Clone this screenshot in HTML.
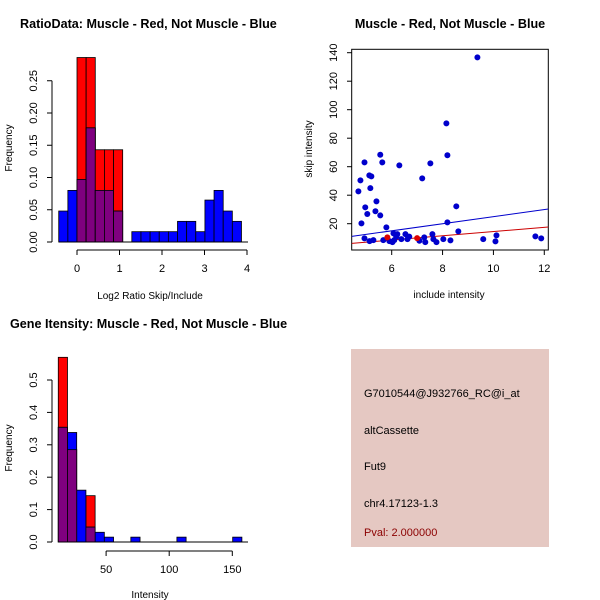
<!DOCTYPE html>
<html><head><meta charset="utf-8"><style>
body{margin:0;background:#fff}
svg{display:block;font-family:"Liberation Sans",sans-serif}
</style></head><body>
<svg id="s" width="600" height="600" viewBox="0 0 600 600">
<rect width="600" height="600" fill="#fff"/>
<g id="p1"></g>
<g id="p2"></g>
<g id="p3"></g>
<g>
<rect x="351" y="349" width="198" height="198" fill="#e5c8c2"/>
<text x="364" y="397" font-size="11">G7010544@J932766_RC@i_at</text>
<text x="364" y="434" font-size="11">altCassette</text>
<text x="364" y="470" font-size="11">Fut9</text>
<text x="364" y="507" font-size="11">chr4.17123-1.3</text>
<text x="364" y="536" font-size="11" fill="#8b0000">Pval: 2.000000</text>
</g>
</svg>
<script>
// ---- Plot 1 data ----
const ratioBinStart = -0.43;
const ratioBinWidth = 0.215;
const ratioBlue = [0.048,0.08,0.097,0.177,0.08,0.08,0.048,0,0.016,0.016,0.016,0.016,0.016,0.032,0.032,0.016,0.065,0.08,0.048,0.032];
const ratioRed = [0,0,0.286,0.286,0.143,0.143,0.143,0,0,0,0,0,0,0,0,0,0,0,0,0];
const ratioXTicks = [0,1,2,3,4];
const ratioYTicks = [0,0.05,0.10,0.15,0.20,0.25];
const ratioYLabels = ["0.00","0.05","0.10","0.15","0.20","0.25"];
// ---- Plot 2 data ----
const scatX = [4.69,4.77,4.81,4.93,4.93,4.96,5.04,5.12,5.16,5.2,5.13,5.28,5.36,5.4,5.55,5.55,5.63,5.67,5.79,5.91,6.03,6.07,6.1,6.18,6.22,6.3,6.38,6.54,6.62,6.69,7.09,7.2,7.28,7.32,7.52,7.6,7.64,7.76,8.03,8.15,8.19,8.19,8.31,8.54,8.62,9.37,9.6,10.08,10.12,11.65,11.88];
const scatY = [42.7,50.4,20.2,63,9.7,31.5,26.8,53.9,45,53.2,7.8,8.5,28.7,35.7,68.4,25.8,63,8.5,17.4,7.8,7.1,13.2,8.5,10.9,12.7,60.9,9.2,12.7,9.2,10.9,8,51.8,10.4,7.1,62.3,12.7,9.2,7.1,9.2,90.4,68,20.9,8.3,32.2,14.6,136.7,9.2,7.6,11.8,11.1,9.7];
const redX = [5.83,7.0];
const redY = [10.4,9.9];
const blueLineX = [4.43,12.16];
const blueLineY = [11.1,30.3];
const redLineX = [4.43,12.16];
const redLineY = [6.2,17.7];
const scatXTicks = [6,8,10,12];
const scatYTicks = [20,40,60,80,100,120,140];
// ---- Plot 3 data ----
const intBlueLeft = [12.1,19.4,26.7,34,41.3,48.6,69.6,106.1,150.3];
const intBlueVal = [0.354,0.338,0.16,0.046,0.03,0.015,0.015,0.015,0.015];
const intRedLeft = [12.1,19.4,34];
const intRedVal = [0.57,0.285,0.143];
const intBinWidth = 7.3;
const intXTicks = [50,100,150];
const intYTicks = [0,0.1,0.2,0.3,0.4,0.5];
const intYLabels = ["0.0","0.1","0.2","0.3","0.4","0.5"];

const NS="http://www.w3.org/2000/svg";
function mk(parent,tag,attrs,text){const e=document.createElementNS(NS,tag);for(const k in attrs)e.setAttribute(k,attrs[k]);if(text!==undefined)e.textContent=text;parent.appendChild(e);return e;}

// Plot 1
(function(){
const g=document.getElementById('p1');
const sx=v=>77+v*42.5, sy=v=>242-v*645;
mk(g,'text',{x:20,y:28,'font-size':12.6,'font-weight':'bold'},'RatioData: Muscle - Red, Not Muscle - Blue');
for(let i=0;i<ratioBlue.length;i++){
  const x0=sx(ratioBinStart+i*ratioBinWidth),w=ratioBinWidth*42.5;
  const b=ratioBlue[i],r=ratioRed[i],m=Math.min(b,r);
  if(r>0){const e=mk(g,'rect',{x:x0,y:sy(r),width:w,height:sy(0)-sy(r),fill:'#ff0000',stroke:'#000','stroke-width':0.8});
    }
  if(b>0){const e=mk(g,'rect',{x:x0,y:sy(b),width:w,height:sy(0)-sy(b),fill:'#0000ff',stroke:'#000','stroke-width':0.8});
    }
  if(m>0){const e=mk(g,'rect',{x:x0,y:sy(m),width:w,height:sy(0)-sy(m),fill:'#7f007f',stroke:'#000','stroke-width':0.8});
    }
}
mk(g,'line',{x1:sx(ratioBinStart),x2:248,y1:sy(0),y2:sy(0),stroke:'#000'});
mk(g,'line',{x1:sx(0),x2:sx(4),y1:250,y2:250,stroke:'#000'});
ratioXTicks.forEach(t=>{mk(g,'line',{x1:sx(t),x2:sx(t),y1:250,y2:255,stroke:'#000'});
  const e=mk(g,'text',{x:sx(t),y:272,'font-size':11,'text-anchor':'middle'},String(t));});
mk(g,'line',{x1:52,x2:52,y1:sy(0),y2:sy(0.25),stroke:'#000'});
ratioYTicks.forEach((t,i)=>{mk(g,'line',{x1:47,x2:52,y1:sy(t),y2:sy(t),stroke:'#000'});
  const e=mk(g,'text',{x:0,y:0,'font-size':11,'text-anchor':'middle',transform:`translate(37,${sy(t)}) rotate(-90)`},ratioYLabels[i]);});
mk(g,'text',{x:150,y:299,'font-size':10,'text-anchor':'middle'},'Log2 Ratio Skip/Include');
mk(g,'text',{x:0,y:0,'font-size':10,'text-anchor':'middle',transform:'translate(12,148) rotate(-90)'},'Frequency');
})();

// Plot 2
(function(){
const g=document.getElementById('p2');
const sx=v=>391.7+(v-6)*25.43, sy=v=>223.7-(v-20)*1.425;
mk(g,'text',{x:450,y:28,'font-size':12.6,'font-weight':'bold','text-anchor':'middle'},'Muscle - Red, Not Muscle - Blue');
mk(g,'rect',{x:351.7,y:49.3,width:196.6,height:200.7,fill:'none',stroke:'#000'});
const cp=mk(g,'clipPath',{id:'c2'});mk(cp,'rect',{x:351.7,y:49.3,width:196.6,height:200.7});
const l1=mk(g,'line',{x1:sx(blueLineX[0]),y1:sy(blueLineY[0]),x2:sx(blueLineX[1]),y2:sy(blueLineY[1]),stroke:'#0000cc','clip-path':'url(#c2)'});

const l2=mk(g,'line',{x1:sx(redLineX[0]),y1:sy(redLineY[0]),x2:sx(redLineX[1]),y2:sy(redLineY[1]),stroke:'#cc0000','clip-path':'url(#c2)'});

scatX.forEach((x,i)=>{const e=mk(g,'circle',{cx:sx(x),cy:sy(scatY[i]),r:3,fill:'#0000cc'});
  });
redX.forEach((x,i)=>{const e=mk(g,'circle',{cx:sx(x),cy:sy(redY[i]),r:3,fill:'#dd0000'});
  });
scatXTicks.forEach(t=>{mk(g,'line',{x1:sx(t),x2:sx(t),y1:250,y2:255,stroke:'#000'});
  const e=mk(g,'text',{x:sx(t),y:272,'font-size':11,'text-anchor':'middle'},String(t));});
scatYTicks.forEach(t=>{mk(g,'line',{x1:347,x2:351.7,y1:sy(t),y2:sy(t),stroke:'#000'});
  const e=mk(g,'text',{x:0,y:0,'font-size':11,'text-anchor':'middle',transform:`translate(337,${sy(t)}) rotate(-90)`},String(t));});
mk(g,'text',{x:449,y:298,'font-size':10,'text-anchor':'middle'},'include intensity');
mk(g,'text',{x:0,y:0,'font-size':10,'text-anchor':'middle',transform:'translate(312,149) rotate(-90)'},'skip intensity');
})();

// Plot 3
(function(){
const g=document.getElementById('p3');
const sx=v=>43+v*1.262, sy=v=>542-v*324;
const w=intBinWidth*1.262;
mk(g,'text',{x:10,y:328,'font-size':12.6,'font-weight':'bold'},'Gene Itensity: Muscle - Red, Not Muscle - Blue');
intRedLeft.forEach((l,i)=>{const e=mk(g,'rect',{x:sx(l),y:sy(intRedVal[i]),width:w,height:sy(0)-sy(intRedVal[i]),fill:'#ff0000',stroke:'#000','stroke-width':0.8});
  });
intBlueLeft.forEach((l,i)=>{const e=mk(g,'rect',{x:sx(l),y:sy(intBlueVal[i]),width:w,height:sy(0)-sy(intBlueVal[i]),fill:'#0000ff',stroke:'#000','stroke-width':0.8});
  });
intBlueLeft.forEach((l,i)=>{const j=intRedLeft.indexOf(l);if(j<0)return;const m=Math.min(intBlueVal[i],intRedVal[j]);
  const e=mk(g,'rect',{x:sx(l),y:sy(m),width:w,height:sy(0)-sy(m),fill:'#7f007f',stroke:'#000','stroke-width':0.8});
  });
mk(g,'line',{x1:sx(intBlueLeft[0]),x2:248,y1:sy(0),y2:sy(0),stroke:'#000'});
mk(g,'line',{x1:sx(50),x2:sx(150),y1:551,y2:551,stroke:'#000'});
intXTicks.forEach(t=>{mk(g,'line',{x1:sx(t),x2:sx(t),y1:551,y2:556,stroke:'#000'});
  const e=mk(g,'text',{x:sx(t),y:573,'font-size':11,'text-anchor':'middle'},String(t));});
mk(g,'line',{x1:52,x2:52,y1:sy(0),y2:sy(0.5),stroke:'#000'});
intYTicks.forEach((t,i)=>{mk(g,'line',{x1:47,x2:52,y1:sy(t),y2:sy(t),stroke:'#000'});
  const e=mk(g,'text',{x:0,y:0,'font-size':11,'text-anchor':'middle',transform:`translate(37,${sy(t)}) rotate(-90)`},intYLabels[i]);});
mk(g,'text',{x:150,y:598,'font-size':10,'text-anchor':'middle'},'Intensity');
mk(g,'text',{x:0,y:0,'font-size':10,'text-anchor':'middle',transform:'translate(12,448) rotate(-90)'},'Frequency');
})();
</script>
</body></html>
